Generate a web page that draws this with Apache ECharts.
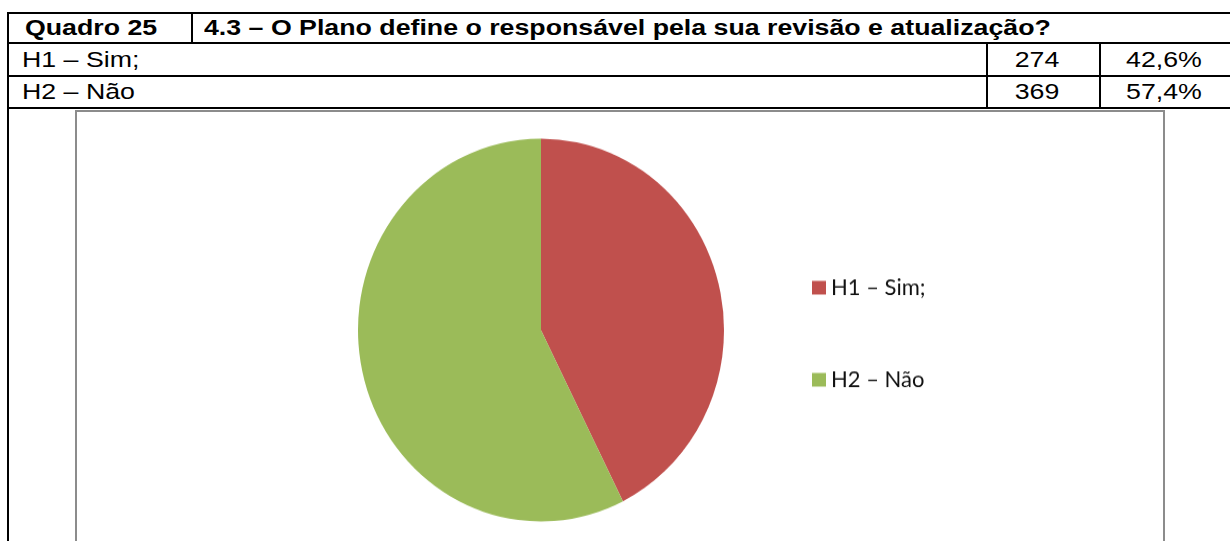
<!DOCTYPE html>
<html>
<head>
<meta charset="utf-8">
<script src="https://cdn.jsdelivr.net/npm/echarts@6/dist/echarts.min.js"></script>
<style>
  html, body { margin: 0; padding: 0; background: #fff; width: 1230px; height: 541px; overflow: hidden; position: relative; }
  .hl, .vl { position: absolute; background: #000; }
  .hl { height: 2px; }
  .vl { width: 2px; }
  .txt { position: absolute; font-family: "Liberation Sans", Arial, sans-serif; font-size: 22px; line-height: 24px; height: 24px; color: #000; white-space: nowrap; transform: scaleX(1.215); transform-origin: 0 50%; }
  .txt.c { transform-origin: 50% 50%; text-align: center; width: 120px; }
  .b { font-weight: bold; }
  #box { position: absolute; left: 75px; top: 110px; width: 1086px; height: 460px; border: 2px solid #8c8c8c; }
  #chart { position: absolute; left: 78px; top: 113px; width: 1083px; height: 428px; transform: scaleY(1.046); transform-origin: 0 0; }
</style>
</head>
<body>
<div class="hl" style="left:7px;top:12px;width:1223px"></div>
<div class="hl" style="left:7px;top:42px;width:1223px"></div>
<div class="hl" style="left:7px;top:75px;width:1223px"></div>
<div class="hl" style="left:7px;top:107px;width:1223px"></div>
<div class="vl" style="left:7px;top:12px;height:529px"></div>
<div class="vl" style="left:191px;top:12px;height:31px"></div>
<div class="vl" style="left:986px;top:42px;height:67px"></div>
<div class="vl" style="left:1099px;top:42px;height:67px"></div>

<div id="quadro" class="txt b" style="left:25px;top:16px"></div>
<div id="titulo" class="txt b" style="left:204px;top:16px"></div>
<div id="r0" class="txt" style="left:22px;top:47.5px"></div>
<div id="v0" class="txt c" style="left:977px;top:47.5px"></div>
<div id="p0" class="txt c" style="left:1104px;top:47.5px"></div>
<div id="r1" class="txt" style="left:22px;top:80px"></div>
<div id="v1" class="txt c" style="left:977px;top:80px"></div>
<div id="p1" class="txt c" style="left:1104px;top:80px"></div>

<div id="box"></div>
<div id="chart"></div>
<script>
const quadroLabel = "Quadro 25";
const questionTitle = "4.3 – O Plano define o responsável pela sua revisão e atualização?";
const categories = ["H1 – Sim;", "H2 – Não"];
const counts = [274, 369];
const percentLabels = ["42,6%", "57,4%"];
const colors = ["#C0504D", "#9BBB59"];

document.getElementById("quadro").textContent = quadroLabel;
document.getElementById("titulo").textContent = questionTitle;
categories.forEach((c, i) => {
  document.getElementById("r" + i).textContent = c;
  document.getElementById("v" + i).textContent = String(counts[i]);
  document.getElementById("p" + i).textContent = percentLabels[i];
});

const chart = echarts.init(document.getElementById("chart"), null, { renderer: "canvas" });
chart.setOption({
  animation: false,
  color: colors,
  legend: {
    orient: "vertical",
    left: 729,
    top: 150,
    itemWidth: 14,
    itemHeight: 13,
    itemGap: 64,
    icon: "rect",
    textStyle: { fontFamily: "Lato", fontSize: 22, color: "#111", lineHeight: 24 },
    data: categories
  },
  series: [{
    type: "pie",
    center: [463, 207.5],
    radius: 183,
    startAngle: 90,
    clockwise: true,
    label: { show: false },
    labelLine: { show: false },
    itemStyle: { borderWidth: 0 },
    emphasis: { disabled: true },
    data: categories.map((c, i) => ({ name: c, value: counts[i] }))
  }]
});
</script>
</body>
</html>
